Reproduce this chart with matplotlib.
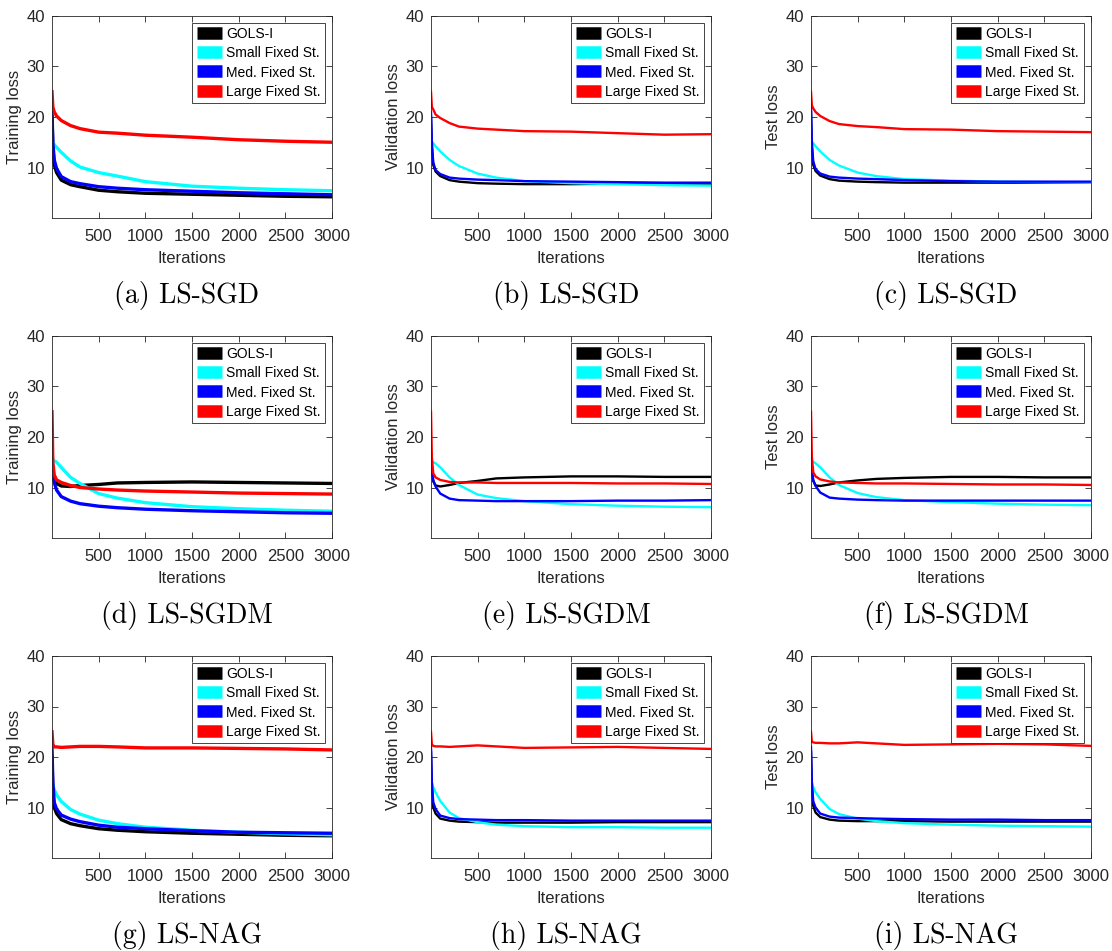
import matplotlib
matplotlib.use("Agg")
import matplotlib.pyplot as plt

plt.rcParams["font.family"] = ["Liberation Sans", "DejaVu Sans"]

iters = [1, 10, 25, 50, 100, 200, 300, 500, 700, 1000, 1500, 2000, 2500, 3000]
methods = ["GOLS-I", "Small Fixed St.", "Med. Fixed St.", "Large Fixed St."]
colors = ["#000000", "#00ffff", "#0000ff", "#ff0000"]

# LS-SGD
sgd_train_gols = [20, 14, 10.5, 9.0, 7.5, 6.6, 6.2, 5.5, 5.2, 4.9, 4.7, 4.5, 4.3, 4.2]
sgd_train_small = [15.2, 15, 14.5, 14, 13, 11.3, 10.1, 9.0, 8.3, 7.2, 6.3, 5.9, 5.6, 5.4]
sgd_train_med = [21, 15, 11.5, 9.8, 8.2, 7.2, 6.8, 6.2, 5.9, 5.6, 5.3, 5.0, 4.8, 4.6]
sgd_train_large = [25, 22, 21, 20.2, 19.3, 18.3, 17.7, 17.0, 16.8, 16.4, 16.0, 15.5, 15.2, 15.0]

sgd_val_gols = [20, 14, 10.5, 9.2, 8.3, 7.5, 7.2, 6.9, 6.8, 6.7, 6.7, 6.8, 6.8, 6.8]
sgd_val_small = [15.5, 15.2, 14.8, 14.2, 13.2, 11.5, 10.3, 8.8, 8.0, 7.3, 6.9, 6.7, 6.5, 6.4]
sgd_val_med = [21, 15, 11, 9.5, 8.7, 8.0, 7.8, 7.6, 7.5, 7.3, 7.2, 7.1, 7.0, 7.0]
sgd_val_large = [25, 22, 21.5, 20.5, 19.8, 18.8, 18.1, 17.7, 17.5, 17.2, 17.1, 16.8, 16.5, 16.6]

sgd_test_gols = [21, 14, 10.5, 9.3, 8.4, 7.7, 7.4, 7.2, 7.1, 7.0, 7.0, 7.0, 7.0, 7.0]
sgd_test_small = [15.5, 15.2, 14.8, 14.2, 13.2, 11.5, 10.4, 9.0, 8.3, 7.7, 7.4, 7.2, 7.1, 7.0]
sgd_test_med = [22, 15, 11.2, 9.7, 8.8, 8.2, 8.0, 7.8, 7.7, 7.5, 7.3, 7.2, 7.2, 7.2]
sgd_test_large = [25, 22.3, 21.7, 21, 20.2, 19.2, 18.6, 18.2, 18.0, 17.6, 17.5, 17.2, 17.1, 17.0]

# LS-SGDM
sgdm_train_gols = [16, 13, 11.5, 10.8, 10.3, 10.2, 10.4, 10.6, 10.9, 11.0, 11.1, 11.0, 10.9, 10.8]
sgdm_train_small = [16, 15.5, 15.3, 15.0, 14.0, 12.0, 10.8, 8.8, 7.9, 7.0, 6.2, 5.8, 5.5, 5.3]
sgdm_train_med = [16, 13, 11, 9.5, 8.2, 7.3, 6.8, 6.3, 6.0, 5.7, 5.4, 5.2, 5.0, 4.9]
sgdm_train_large = [25, 15, 12.5, 11.5, 11.0, 10.4, 10.0, 9.7, 9.5, 9.3, 9.1, 8.9, 8.8, 8.7]

sgdm_val_gols = [16, 13, 11.2, 10.4, 10.2, 10.5, 10.9, 11.3, 11.8, 12.0, 12.2, 12.2, 12.1, 12.1]
sgdm_val_small = [16, 15.2, 15, 14.8, 14.0, 12.0, 10.5, 8.6, 7.9, 7.3, 6.7, 6.4, 6.2, 6.1]
sgdm_val_med = [16, 13.5, 11.5, 10.2, 8.8, 7.8, 7.5, 7.4, 7.3, 7.3, 7.3, 7.4, 7.4, 7.5]
sgdm_val_large = [25, 16, 12.8, 12.0, 11.5, 11.1, 11.0, 11.0, 10.9, 10.9, 10.9, 10.8, 10.8, 10.7]

sgdm_test_gols = [16, 13, 11.3, 10.4, 10.3, 10.6, 11.0, 11.4, 11.7, 11.9, 12.1, 12.1, 12.0, 12.0]
sgdm_test_small = [16, 15.3, 15.1, 14.8, 14.0, 12.0, 10.5, 8.9, 8.1, 7.5, 7.1, 6.8, 6.6, 6.5]
sgdm_test_med = [16, 13.5, 11.5, 10.3, 9.0, 8.0, 7.8, 7.6, 7.5, 7.4, 7.4, 7.4, 7.4, 7.4]
sgdm_test_large = [25, 16, 13, 12.2, 11.6, 11.2, 11.0, 10.9, 10.8, 10.8, 10.7, 10.6, 10.6, 10.5]

# LS-NAG
nag_train_gols = [20, 13, 10, 8.8, 7.6, 6.8, 6.4, 5.8, 5.5, 5.2, 4.9, 4.7, 4.5, 4.4]
nag_train_small = [15, 14.5, 13.5, 12.5, 11.2, 9.6, 8.7, 7.5, 6.8, 6.1, 5.5, 5.1, 4.8, 4.6]
nag_train_med = [22, 15, 11, 9.7, 8.5, 7.7, 7.2, 6.5, 6.1, 5.8, 5.4, 5.1, 5.0, 4.9]
nag_train_large = [25, 22.5, 22.0, 22.0, 21.9, 22.0, 22.1, 22.1, 22.0, 21.8, 21.8, 21.7, 21.6, 21.4]

nag_val_gols = [21, 14, 10, 8.8, 7.8, 7.4, 7.2, 7.1, 7.0, 7.0, 7.0, 7.1, 7.1, 7.1]
nag_val_small = [15.5, 15, 14, 13, 11.3, 9.0, 7.9, 7.1, 6.6, 6.3, 6.1, 6.1, 6.0, 6.0]
nag_val_med = [22, 15, 11, 9.7, 8.4, 7.9, 7.7, 7.6, 7.5, 7.5, 7.4, 7.4, 7.4, 7.4]
nag_val_large = [25, 22.5, 22.2, 22.1, 22.1, 22.0, 22.1, 22.3, 22.1, 21.8, 21.9, 22.0, 21.8, 21.6]

nag_test_gols = [21, 14, 10.3, 9.0, 8.1, 7.6, 7.4, 7.3, 7.3, 7.3, 7.2, 7.2, 7.2, 7.2]
nag_test_small = [15.5, 15, 14, 13, 11.7, 9.7, 8.7, 7.8, 7.3, 6.9, 6.6, 6.4, 6.3, 6.2]
nag_test_med = [22, 15, 11.2, 10, 8.8, 8.2, 8.0, 7.9, 7.8, 7.7, 7.6, 7.6, 7.5, 7.5]
nag_test_large = [25, 23.0, 22.9, 22.8, 22.8, 22.7, 22.7, 22.9, 22.7, 22.4, 22.5, 22.6, 22.5, 22.2]

panels = [
    ("Training loss", "(a) LS-SGD", [sgd_train_gols, sgd_train_small, sgd_train_med, sgd_train_large]),
    ("Validation loss", "(b) LS-SGD", [sgd_val_gols, sgd_val_small, sgd_val_med, sgd_val_large]),
    ("Test loss", "(c) LS-SGD", [sgd_test_gols, sgd_test_small, sgd_test_med, sgd_test_large]),
    ("Training loss", "(d) LS-SGDM", [sgdm_train_gols, sgdm_train_small, sgdm_train_med, sgdm_train_large]),
    ("Validation loss", "(e) LS-SGDM", [sgdm_val_gols, sgdm_val_small, sgdm_val_med, sgdm_val_large]),
    ("Test loss", "(f) LS-SGDM", [sgdm_test_gols, sgdm_test_small, sgdm_test_med, sgdm_test_large]),
    ("Training loss", "(g) LS-NAG", [nag_train_gols, nag_train_small, nag_train_med, nag_train_large]),
    ("Validation loss", "(h) LS-NAG", [nag_val_gols, nag_val_small, nag_val_med, nag_val_large]),
    ("Test loss", "(i) LS-NAG", [nag_test_gols, nag_test_small, nag_test_med, nag_test_large]),
]

W, H = 1112, 951
fig = plt.figure(figsize=(W / 100, H / 100), dpi=100)

col_left = [52, 431, 811]
row_top = [16, 336, 656]
ax_w, ax_h = 280, 202
grey = "#262626"

for k, (ylabel, caption, curves) in enumerate(panels):
    r, c = divmod(k, 3)
    ax = fig.add_axes([col_left[c] / W, 1 - (row_top[r] + ax_h) / H, ax_w / W, ax_h / H])
    # training curves are noisier, so they read as thicker bands
    lw = 2.4 if k in (0, 3, 6) else 1.7
    for vals, col, name in zip(curves, colors, methods):
        ax.plot(iters, vals, color=col, lw=lw, label=name)
    ax.set_xlim(1, 3000)
    ax.set_ylim(0, 40)
    ax.set_xticks([500, 1000, 1500, 2000, 2500, 3000])
    ax.set_yticks([10, 20, 30, 40])
    ax.tick_params(direction="in", top=True, right=True, length=4, width=0.6,
                   colors=grey, labelsize=12)
    ax.tick_params(axis="x", pad=8)
    ax.tick_params(axis="y", pad=5)
    for s in ax.spines.values():
        s.set_color(grey)
        s.set_linewidth(0.6)
    ax.set_xlabel("Iterations", fontsize=12, color=grey, labelpad=5)
    ax.set_ylabel(ylabel, fontsize=12, color=grey, labelpad=3)
    leg = ax.legend(loc="upper right", fontsize=10, handlelength=1.8, handleheight=0.9,
                    handletextpad=0.35, labelspacing=0.38, borderpad=0.3,
                    borderaxespad=0.5, fancybox=False, framealpha=1)
    leg.get_frame().set_edgecolor(grey)
    leg.get_frame().set_linewidth(0.6)
    for h in leg.get_lines():
        h.set_linewidth(9)
        h.set_solid_capstyle("butt")
    cap_y = row_top[r] + ax_h + 77
    fig.text((col_left[c] + ax_w / 2 - 5) / W, 1 - cap_y / H, caption,
             family="cmr10", fontsize=20, ha="center", va="center")

fig.savefig("out.png", dpi=100)
